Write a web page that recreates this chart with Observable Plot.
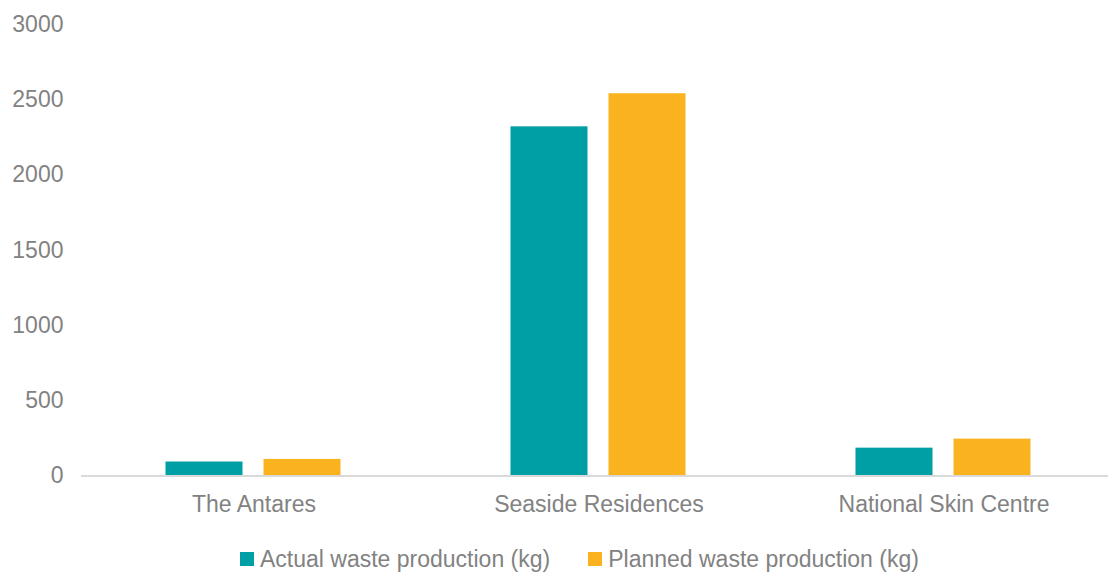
<!DOCTYPE html>
<html>
<head>
<meta charset="utf-8">
<script src="https://cdn.jsdelivr.net/npm/d3@7"></script>
<script src="https://cdn.jsdelivr.net/npm/@observablehq/plot@0.6"></script>
<style>
  html, body { margin: 0; padding: 0; background: #fff; }
  body { width: 1108px; height: 572px; overflow: hidden; font-family: "Liberation Sans", "Helvetica Neue", Arial, sans-serif; }
  #chart svg { display: block; }
  #legend { display: flex; justify-content: flex-start; align-items: center; padding-left: 240px; height: 42px; margin-top: 8px; font-size: 23px; color: #828282; }
  #legend .item { display: flex; align-items: center; }
  #legend .item + .item { margin-left: 38px; }
  #legend .sw { width: 14px; height: 14px; margin-right: 6px; display: inline-block; }
</style>
</head>
<body>
<div id="chart"></div>
<div id="legend"></div>
<script>
const sites = ["The Antares", "Seaside Residences", "National Skin Centre"];
const seriesNames = ["Actual waste production (kg)", "Planned waste production (kg)"];
const actual = [93, 2320, 185];
const planned = [110, 2540, 245];
const colors = ["#009ea5", "#fab31e"];
const yTicks = [0, 500, 1000, 1500, 2000, 2500, 3000];

const data = [];
sites.forEach((s, i) => {
  data.push({site: s, series: seriesNames[0], value: actual[i]});
  data.push({site: s, series: seriesNames[1], value: planned[i]});
});

const chart = Plot.plot({
  width: 1108,
  height: 530,
  marginTop: 24,
  marginBottom: 54.5,
  marginLeft: 80.5,
  marginRight: 0,
  style: {fontFamily: "Liberation Sans, Helvetica Neue, Arial, sans-serif", fontSize: "23px", color: "#828282", background: "#fff"},
  fx: {domain: sites, range: [80.5, 1115.5], padding: 0, label: null},
  x: {domain: seriesNames, paddingInner: 0.212, paddingOuter: 0.849, axis: null},
  y: {domain: [0, 3000], label: null},
  color: {domain: seriesNames, range: colors},
  marks: [
    Plot.axisFx({anchor: "bottom", tickSize: 0, tickPadding: 20, label: null, fontSize: 23, fill: "#828282"}),
    Plot.axisY({ticks: yTicks, tickSize: 0, tickPadding: 18, label: null, fontSize: 23, fill: "#828282", tickFormat: d => String(d)}),
    Plot.barY(data, {fx: "site", x: "series", y: "value", fill: "series"}),
    Plot.ruleY([0], {stroke: "#d9d9d9", strokeWidth: 2})
  ]
});
document.getElementById("chart").appendChild(chart);

const legend = document.getElementById("legend");
seriesNames.forEach((n, i) => {
  const it = document.createElement("div");
  it.className = "item";
  const sw = document.createElement("span");
  sw.className = "sw";
  sw.style.background = colors[i];
  it.appendChild(sw);
  const t = document.createElement("span");
  t.textContent = n;
  it.appendChild(t);
  legend.appendChild(it);
});
</script>
</body>
</html>
